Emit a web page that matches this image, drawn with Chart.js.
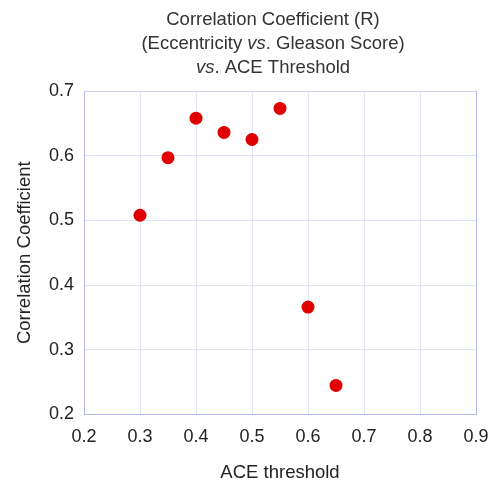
<!DOCTYPE html>
<html>
<head>
<meta charset="utf-8">
<title>Correlation Coefficient vs. ACE Threshold</title>
<script src="https://cdn.jsdelivr.net/npm/chart.js@4/dist/chart.umd.min.js"></script>
<style>
  html, body { margin: 0; padding: 0; background: #fff; }
  #chart { display: block; }
</style>
</head>
<body>
<canvas id="chart" width="495" height="482"></canvas>
<script>
// ACE threshold values and the correlation coefficient
const aceThresholds = [0.30, 0.35, 0.40, 0.45, 0.50, 0.55, 0.60, 0.65];
const correlationR = [0.508, 0.597, 0.658, 0.636, 0.625, 0.673, 0.366, 0.245];

const xTicks = [0.2, 0.3, 0.4, 0.5, 0.6, 0.7, 0.8, 0.9];
const yTicks = [0.2, 0.3, 0.4, 0.5, 0.6, 0.7];

// title lines, each a list of [text, italic]
const titleLines = [
  [["Correlation Coefficient (R)", false]],
  [["(Eccentricity ", false], ["vs", true], [". Gleason Score)", false]],
  [["vs", true], [". ACE Threshold", false]],
];

const FONT = "'Liberation Sans', Arial, Helvetica, sans-serif";
const GRID = "#e2e2fa";
const BORDER = "#b6b6f0";
const TOP_EDGE = "#d2d2f8";

// draws the three-line title, with "vs" set in italics
const mixedTitle = {
  id: "mixedTitle",
  afterDraw(chart) {
    const ctx = chart.ctx;
    const cx = 273;
    ctx.save();
    ctx.fillStyle = "#333";
    ctx.textBaseline = "middle";
    ctx.textAlign = "left";
    titleLines.forEach((parts, i) => {
      const y = 20 + i * 24;
      let total = 0;
      parts.forEach(([t, it]) => {
        ctx.font = `${it ? "italic " : ""}18.5px ${FONT}`;
        total += ctx.measureText(t).width;
      });
      let x = cx - total / 2;
      parts.forEach(([t, it]) => {
        ctx.font = `${it ? "italic " : ""}18.5px ${FONT}`;
        ctx.fillText(t, x, y);
        x += ctx.measureText(t).width;
      });
    });
    ctx.restore();
  },
};

function fmt(v) {
  return Number(v).toFixed(1);
}

function init() {
  const ctx = document.getElementById("chart");
  new Chart(ctx, {
    type: "scatter",
    data: {
      datasets: [{
        label: "R",
        data: aceThresholds.map((x, i) => ({ x, y: correlationR[i] })),
        backgroundColor: "#e00000",
        borderWidth: 0,
        pointRadius: 6.5,
        pointHoverRadius: 6.5,
      }],
    },
    options: {
      responsive: false,
      animation: false,
      layout: { padding: { top: 91, right: 19, left: 0, bottom: 0 } },
      plugins: { legend: { display: false }, title: { display: false }, tooltip: { enabled: false } },
      scales: {
        x: {
          type: "linear",
          min: xTicks[0],
          max: xTicks[xTicks.length - 1],
          afterBuildTicks: (s) => { s.ticks = xTicks.map((v) => ({ value: v })); },
          afterFit: (s) => { s.height = 67.5; s.paddingRight = 0; },
          grid: {
            color: (c) => (c.tick && c.tick.value === xTicks[xTicks.length - 1] ? BORDER : GRID),
            drawTicks: false,
          },
          border: { color: BORDER },
          ticks: { padding: 12, color: "#222", font: { family: FONT, size: 18 }, callback: fmt },
          title: {
            display: true, text: "ACE threshold", color: "#222",
            font: { family: FONT, size: 18.5, lineHeight: 1 }, padding: { top: 0, bottom: 0 },
          },
        },
        y: {
          min: yTicks[0],
          max: yTicks[yTicks.length - 1],
          afterBuildTicks: (s) => { s.ticks = yTicks.map((v) => ({ value: v })); },
          afterFit: (s) => { s.width = 84; },
          grid: {
            color: (c) => (c.tick && c.tick.value === yTicks[yTicks.length - 1] ? TOP_EDGE : GRID),
            drawTicks: false,
          },
          border: { color: BORDER },
          ticks: { padding: 10, color: "#222", font: { family: FONT, size: 18 }, callback: fmt },
          title: {
            display: true, text: "Correlation Coefficient", color: "#222",
            font: { family: FONT, size: 18.5 }, padding: { top: 14, bottom: 0 },
          },
        },
      },
    },
    plugins: [mixedTitle],
  });
}

document.addEventListener("DOMContentLoaded", init);
</script>
</body>
</html>
